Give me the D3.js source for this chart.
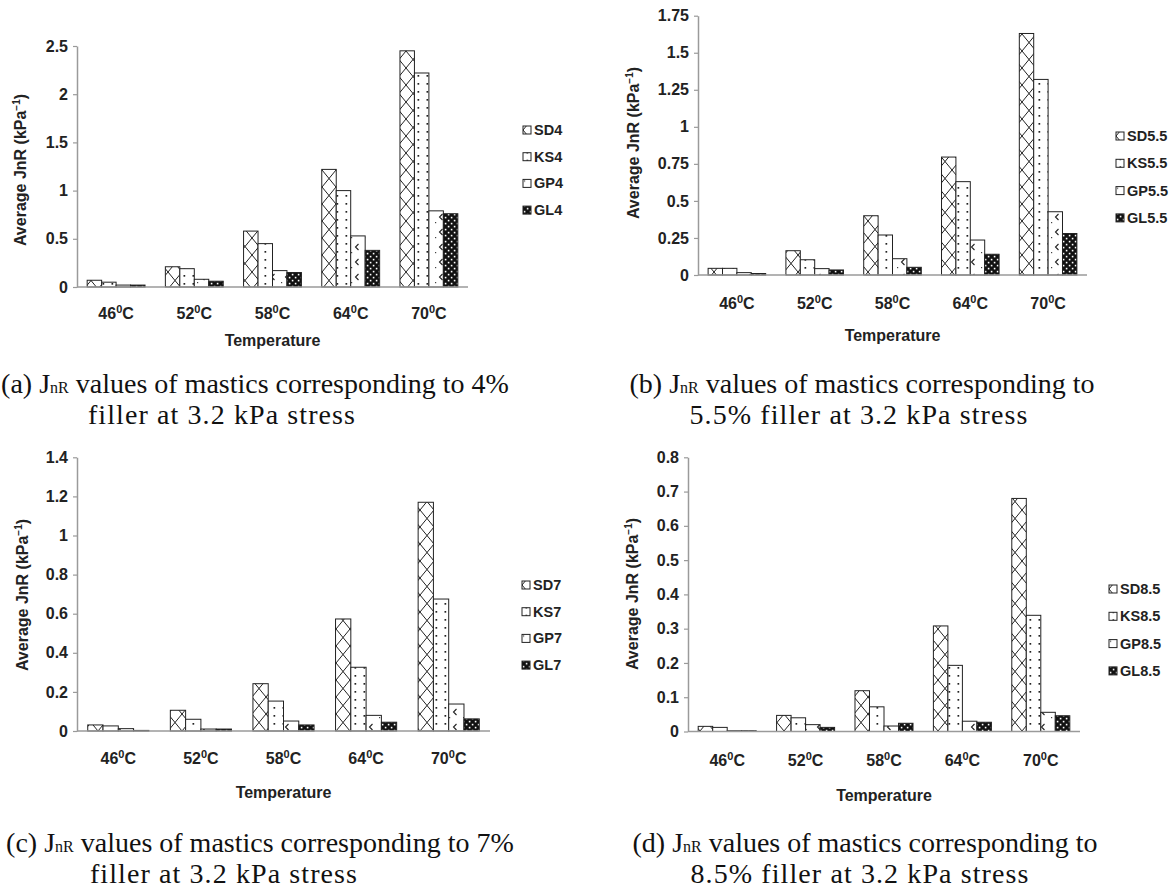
<!DOCTYPE html>
<html>
<head>
<meta charset="utf-8">
<script src="https://cdn.jsdelivr.net/npm/d3@7"></script>
<style>
  html, body { margin: 0; padding: 0; background: #fff; }
  svg { display: block; }
</style>
</head>
<body>
<svg id="fig" width="1173" height="896"></svg>
<script>
// Test temperatures (°C) shared by all four panels
const temps = ["46", "52", "58", "64", "70"];

// Average JnR (kPa^-1) at 3.2 kPa, 4% filler
const sd4 = [0.07, 0.21, 0.58, 1.22, 2.45];
const ks4 = [0.05, 0.19, 0.45, 1.00, 2.22];
const gp4 = [0.02, 0.08, 0.17, 0.53, 0.79];
const gl4 = [0.02, 0.06, 0.15, 0.38, 0.76];

// 5.5% filler
const sd55 = [0.045, 0.164, 0.40, 0.796, 1.63];
const ks55 = [0.045, 0.103, 0.27, 0.63, 1.32];
const gp55 = [0.016, 0.043, 0.11, 0.236, 0.427];
const gl55 = [0.01, 0.034, 0.052, 0.14, 0.28];

// 7% filler
const sd7 = [0.031, 0.106, 0.242, 0.573, 1.17];
const ks7 = [0.026, 0.06, 0.153, 0.326, 0.675];
const gp7 = [0.012, 0.01, 0.051, 0.08, 0.138];
const gl7 = [0.003, 0.01, 0.031, 0.045, 0.062];

// 8.5% filler
const sd85 = [0.015, 0.047, 0.119, 0.308, 0.68];
const ks85 = [0.012, 0.04, 0.072, 0.193, 0.339];
const gp85 = [0.002, 0.02, 0.016, 0.03, 0.056];
const gl85 = [0.002, 0.012, 0.024, 0.027, 0.046];

// Axis tick values per panel
const ticksA = [0, 0.5, 1, 1.5, 2, 2.5];
const ticksB = [0, 0.25, 0.5, 0.75, 1, 1.25, 1.5, 1.75];
const ticksC = [0, 0.2, 0.4, 0.6, 0.8, 1, 1.2, 1.4];
const ticksD = [0, 0.1, 0.2, 0.3, 0.4, 0.5, 0.6, 0.7, 0.8];

// Series names per panel
const namesA = ["SD4", "KS4", "GP4", "GL4"];
const namesB = ["SD5.5", "KS5.5", "GP5.5", "GL5.5"];
const namesC = ["SD7", "KS7", "GP7", "GL7"];
const namesD = ["SD8.5", "KS8.5", "GP8.5", "GL8.5"];

// Figure captions (line 1 prefix, line 1 suffix, line 2)
const capA = ["(a) J", " values of mastics corresponding to 4%", "filler at 3.2 kPa stress"];
const capB = ["(b) J", " values of mastics corresponding to", "5.5% filler at 3.2 kPa stress"];
const capC = ["(c) J", " values of mastics corresponding to 7%", "filler at 3.2 kPa stress"];
const capD = ["(d) J", " values of mastics corresponding to", "8.5% filler at 3.2 kPa stress"];

const patternIds = ["pSD", "pKS", "pGP", "pGL"];

const svg = d3.select("#fig");
svg.append("rect").attr("width", 1173).attr("height", 896).attr("fill", "#fff");

// ---- fill patterns ----
const defs = svg.append("defs");
{
  const p = defs.append("pattern").attr("id", "pSD").attr("patternUnits", "userSpaceOnUse")
    .attr("width", 14).attr("height", 17);
  p.append("rect").attr("width", 14).attr("height", 17).attr("fill", "#fff");
  p.append("path").attr("d", "M0,0 L14,17 M14,0 L0,17 M-1,16 L1,18 M13,-1 L15,1")
    .attr("stroke", "#222").attr("stroke-width", 1).attr("fill", "none");
}
{
  const p = defs.append("pattern").attr("id", "pKS").attr("patternUnits", "userSpaceOnUse")
    .attr("width", 9).attr("height", 8);
  p.append("rect").attr("width", 9).attr("height", 8).attr("fill", "#fff");
  p.append("rect").attr("x", 3.5).attr("y", 3).attr("width", 1.7).attr("height", 1.7).attr("fill", "#222");
}
{
  const p = defs.append("pattern").attr("id", "pGP").attr("patternUnits", "userSpaceOnUse")
    .attr("width", 14).attr("height", 15);
  p.append("rect").attr("width", 14).attr("height", 15).attr("fill", "#fff");
  p.append("path").attr("d", "M8.5,4 L5.5,7 L8.5,10")
    .attr("stroke", "#222").attr("stroke-width", 1.1).attr("fill", "none");
  p.append("rect").attr("x", 1).attr("y", 12).attr("width", 1.2).attr("height", 1.2).attr("fill", "#444");
}
{
  const p = defs.append("pattern").attr("id", "pGL").attr("patternUnits", "userSpaceOnUse")
    .attr("width", 6).attr("height", 6);
  p.append("rect").attr("width", 6).attr("height", 6).attr("fill", "#111");
  p.append("rect").attr("x", 0.8).attr("y", 0.8).attr("width", 1.6).attr("height", 1.6).attr("fill", "#fff");
  p.append("rect").attr("x", 3.8).attr("y", 3.8).attr("width", 1.6).attr("height", 1.6).attr("fill", "#fff");
}

const SANS = "'Liberation Sans', Arial, sans-serif";
const SERIF = "'Liberation Serif', 'Times New Roman', serif";

function drawPanel(cfg) {
  const g = svg.append("g");
  const y = d3.scaleLinear().domain([0, cfg.max]).range([cfg.y0, cfg.yTop]);
  const x = d3.scaleBand().domain(temps).range([cfg.x0, cfg.x1])
    .paddingInner(0.26).paddingOuter(0.13);
  const xs = d3.scaleBand().domain(cfg.names).range([0, x.bandwidth()]);

  // y axis
  const ax = g.append("g").attr("transform", `translate(${cfg.x0},0)`)
    .call(d3.axisLeft(y).tickValues(cfg.ticks).tickSize(4).tickSizeOuter(0).tickPadding(5)
      .tickFormat(d => String(d)));
  ax.select(".domain").attr("stroke", "#9a9a9a").attr("stroke-width", 1.5);
  ax.selectAll(".tick line").attr("stroke", "#9a9a9a").attr("stroke-width", 1.2);
  ax.selectAll(".tick text").attr("fill", "#222").attr("font-family", SANS)
    .attr("font-weight", "bold").attr("font-size", 16);

  // bars
  cfg.values.forEach((vals, si) => {
    g.append("g").selectAll("rect").data(vals).join("rect")
      .attr("x", (d, i) => x(temps[i]) + xs(cfg.names[si]))
      .attr("y", d => y(d))
      .attr("width", xs.bandwidth())
      .attr("height", d => y(0) - y(d))
      .attr("fill", `url(#${patternIds[si]})`)
      .attr("stroke", "#222").attr("stroke-width", 1);
  });

  // baseline
  g.append("line").attr("x1", cfg.x0).attr("x2", cfg.x1)
    .attr("y1", y(0)).attr("y2", y(0))
    .attr("stroke", "#9a9a9a").attr("stroke-width", 1.5);

  // category labels
  const cat = g.append("g").selectAll("text").data(temps).join("text")
    .attr("x", d => x(d) + x.bandwidth() / 2)
    .attr("y", y(0) + cfg.catDy)
    .attr("text-anchor", "middle")
    .attr("font-family", SANS).attr("font-weight", "bold").attr("font-size", 16)
    .attr("fill", "#222");
  cat.append("tspan").text(d => d);
  cat.append("tspan").attr("font-size", 11).attr("dy", -6).text("0");
  cat.append("tspan").attr("dy", 6).text("C");

  // x axis title
  g.append("text").attr("x", (cfg.x0 + cfg.x1) / 2).attr("y", y(0) + cfg.titleDy)
    .attr("text-anchor", "middle").attr("font-family", SANS).attr("font-weight", "bold")
    .attr("font-size", 16).attr("fill", "#222").text("Temperature");

  // y axis title
  const yt = g.append("text")
    .attr("transform", `translate(${cfg.yTitleX},${cfg.yTitleY}) rotate(-90)`)
    .attr("text-anchor", "middle").attr("font-family", SANS).attr("font-weight", "bold")
    .attr("font-size", 16).attr("fill", "#222");
  yt.append("tspan").text("Average JnR (kPa");
  yt.append("tspan").attr("font-size", 10).attr("dy", -6).text("−1");
  yt.append("tspan").attr("dy", 6).text(")");

  // legend
  const lg = g.append("g").selectAll("g").data(cfg.names).join("g")
    .attr("transform", (d, i) => `translate(${cfg.legX},${cfg.legY + i * cfg.legDy})`);
  lg.append("rect").attr("x", 0).attr("y", -4).attr("width", 8).attr("height", 8)
    .attr("fill", (d, i) => `url(#${patternIds[i]})`).attr("stroke", "#222").attr("stroke-width", 1);
  lg.append("text").attr("x", 11).attr("y", 0).attr("dy", "0.35em")
    .attr("font-family", SANS).attr("font-weight", "bold").attr("font-size", 14.5)
    .attr("fill", "#222").text(d => d);

  // caption
  const c1 = g.append("text").attr("x", cfg.cap1X).attr("y", cfg.capY)
    .attr("text-anchor", "middle").attr("font-family", SERIF).attr("font-size", 28).attr("fill", "#111");
  c1.append("tspan").text(cfg.caption[0]);
  c1.append("tspan").attr("font-size", 16).text("nR");
  c1.append("tspan").text(cfg.caption[1]);
  g.append("text").attr("x", cfg.cap2X).attr("y", cfg.capY + 31)
    .attr("text-anchor", "middle").attr("font-family", SERIF).attr("font-size", 28)
    .attr("letter-spacing", 1.1).attr("fill", "#111")
    .text(cfg.caption[2]);
}

drawPanel({
  x0: 77, x1: 468, y0: 287, yTop: 46, max: 2.5, ticks: ticksA,
  names: namesA, values: [sd4, ks4, gp4, gl4],
  catDy: 32, titleDy: 59, yTitleX: 26, yTitleY: 170,
  legX: 523, legY: 130, legDy: 26.7,
  caption: capA, cap1X: 255, cap2X: 222, capY: 393
});
drawPanel({
  x0: 698, x1: 1087, y0: 275, yTop: 15.7, max: 1.75, ticks: ticksB,
  names: namesB, values: [sd55, ks55, gp55, gl55],
  catDy: 34, titleDy: 66, yTitleX: 639, yTitleY: 143,
  legX: 1116, legY: 136, legDy: 27.3,
  caption: capB, cap1X: 862, cap2X: 859, capY: 393
});
drawPanel({
  x0: 77, x1: 490, y0: 731, yTop: 457.3, max: 1.4, ticks: ticksC,
  names: namesC, values: [sd7, ks7, gp7, gl7],
  catDy: 33, titleDy: 67, yTitleX: 28, yTitleY: 595,
  legX: 522, legY: 585, legDy: 26.7,
  caption: capC, cap1X: 260, cap2X: 224, capY: 852
});
drawPanel({
  x0: 688, x1: 1080, y0: 731.5, yTop: 457.3, max: 0.8, ticks: ticksD,
  names: namesD, values: [sd85, ks85, gp85, gl85],
  catDy: 34, titleDy: 69, yTitleX: 638, yTitleY: 594,
  legX: 1109, legY: 589, legDy: 27.3,
  caption: capD, cap1X: 865, cap2X: 860, capY: 852
});
</script>
</body>
</html>
